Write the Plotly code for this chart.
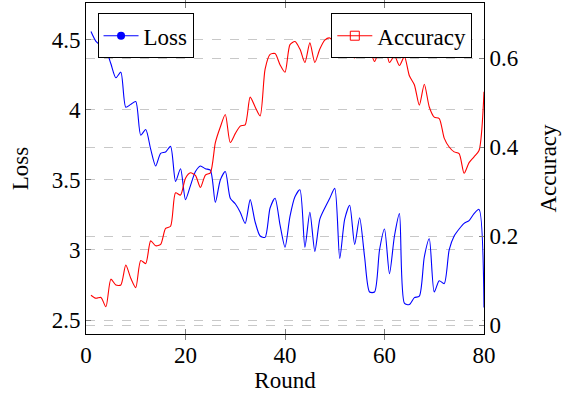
import plotly.graph_objects as go

rounds = list(range(1, 81))

loss = [4.56, 4.49, 4.46, 4.43, 4.33, 4.23, 4.27, 4.02, 4.04, 4.06,
        3.82, 3.86, 3.72, 3.60, 3.69, 3.70, 3.74, 3.49, 3.58, 3.36,
        3.46, 3.56, 3.60, 3.58, 3.57, 3.34, 3.50, 3.56, 3.37, 3.33,
        3.27, 3.19, 3.36, 3.20, 3.10, 3.09, 3.30, 3.37, 3.18, 3.02,
        3.24, 3.38, 3.43, 3.02, 3.27, 2.99, 3.22, 3.30, 3.37, 3.44,
        2.94, 3.22, 3.32, 3.04, 3.23, 2.95, 2.70, 2.70, 3.00, 3.15,
        2.83, 3.10, 3.26, 2.62, 2.61, 2.66, 2.67, 2.95, 3.08, 2.70,
        2.78, 2.76, 3.00, 3.10, 3.15, 3.19, 3.21, 3.26, 3.29, 2.59]

accuracy = [0.067, 0.060, 0.062, 0.041, 0.103, 0.090, 0.090, 0.135, 0.105, 0.084,
            0.145, 0.138, 0.189, 0.178, 0.181, 0.217, 0.222, 0.297, 0.292, 0.330,
            0.342, 0.336, 0.309, 0.337, 0.342, 0.410, 0.445, 0.473, 0.410, 0.430,
            0.447, 0.450, 0.512, 0.490, 0.470, 0.575, 0.608, 0.610, 0.585, 0.568,
            0.630, 0.637, 0.620, 0.590, 0.634, 0.590, 0.620, 0.640, 0.645, 0.630,
            0.603, 0.625, 0.612, 0.600, 0.625, 0.630, 0.620, 0.592, 0.620, 0.630,
            0.590, 0.605, 0.583, 0.603, 0.560, 0.540, 0.494, 0.541, 0.490, 0.467,
            0.464, 0.420, 0.400, 0.389, 0.385, 0.341, 0.365, 0.378, 0.392, 0.524]

x_ticks = [0, 20, 40, 60, 80]
loss_ticks = [2.5, 3, 3.5, 4, 4.5]
acc_ticks = [0, 0.2, 0.4, 0.6]

FONT = "'Liberation Serif', 'Times New Roman', 'DejaVu Serif', serif"
FS = 23
GRID = "#c8c8c8"
TICKC = "#808080"

fig = go.Figure()

fig.add_trace(go.Scatter(x=rounds, y=loss, mode="lines", name="Loss",
                         line=dict(color="#0000ff", width=1.1, shape="spline", smoothing=0.7),
                         showlegend=False, yaxis="y"))
fig.add_trace(go.Scatter(x=rounds, y=accuracy, mode="lines", name="Accuracy",
                         line=dict(color="#ff0000", width=1.1, shape="spline", smoothing=0.7),
                         showlegend=False, yaxis="y2"))

# legend entries (with markers, as in the reference)
fig.add_trace(go.Scatter(x=[None], y=[None], mode="lines+markers", name="Loss",
                         line=dict(color="#0000ff", width=1.1),
                         marker=dict(symbol="circle", size=8, color="#0000ff"),
                         legend="legend", yaxis="y"))
fig.add_trace(go.Scatter(x=[None], y=[None], mode="lines+markers", name="Accuracy",
                         line=dict(color="#ff0000", width=1.1),
                         marker=dict(symbol="square-open", size=9, color="#ff0000",
                                     line=dict(width=1, color="#ff0000")),
                         legend="legend2", yaxis="y2"))

fig.update_layout(
    width=570, height=398,
    margin=dict(l=86, r=86, t=3, b=64),
    paper_bgcolor="white", plot_bgcolor="white",
    font=dict(family=FONT, size=FS, color="black"),
    xaxis=dict(range=[0, 80], tickvals=x_ticks, ticks="inside", ticklen=5,
               tickcolor=TICKC, showline=True, linecolor="black", linewidth=1,
               mirror="allticks", showgrid=False, zeroline=False,
               title=dict(text="Round", standoff=4, font=dict(family=FONT, size=FS)),
               tickfont=dict(family=FONT, size=FS)),
    yaxis=dict(range=[2.4, 4.764], tickvals=loss_ticks, ticks="inside", ticklen=5,
               tickcolor=TICKC, showline=True, linecolor="black", linewidth=1,
               mirror=True, showgrid=True, gridcolor=GRID, griddash="dash",
               gridwidth=1, zeroline=False,
               title=dict(text="Loss", standoff=16, font=dict(family=FONT, size=FS)),
               tickfont=dict(family=FONT, size=FS)),
    yaxis2=dict(range=[-0.0202, 0.7236], tickvals=acc_ticks, ticks="inside", ticklen=5,
                tickcolor=TICKC, overlaying="y", side="right", showline=True,
                linecolor="black", linewidth=1, showgrid=True, gridcolor=GRID,
                griddash="dash", gridwidth=1, zeroline=False,
                title=dict(text="Accuracy", standoff=22, font=dict(family=FONT, size=FS)),
                tickfont=dict(family=FONT, size=FS)),
    legend=dict(x=0.029, y=0.969, xanchor="left", yanchor="top",
                bgcolor="white", bordercolor="black", borderwidth=1,
                font=dict(family=FONT, size=FS), itemwidth=35,
                tracegroupgap=0),
    legend2=dict(x=0.9706, y=0.969, xanchor="right", yanchor="top",
                 bgcolor="white", bordercolor="black", borderwidth=1,
                 font=dict(family=FONT, size=FS), itemwidth=35,
                 tracegroupgap=0),
)

fig.write_html("out.html")
